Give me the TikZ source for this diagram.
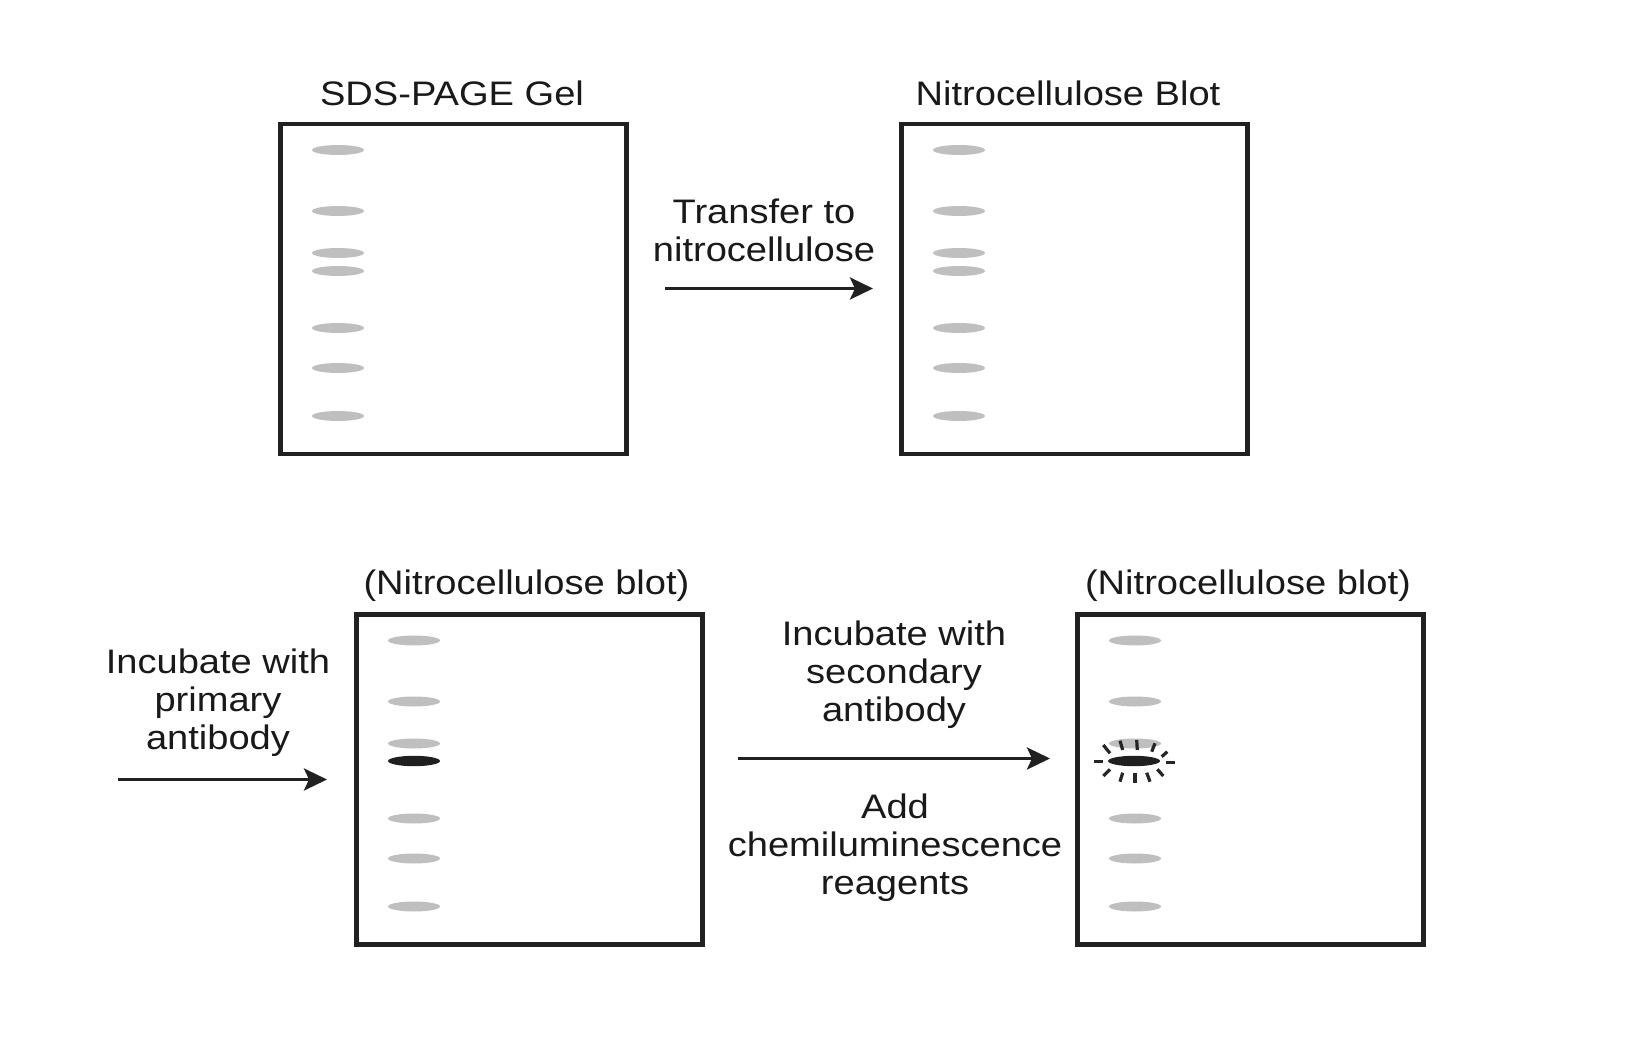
\documentclass[tikz,border=0pt]{standalone}
\usepackage{fontspec}
\setmainfont[FakeStretch=1.12]{Liberation Sans}
\usetikzlibrary{arrows.meta}
\tikzset{
  gelbox/.style={draw=black!87, line width=2.1pt, minimum width=173pt, minimum height=165pt, inner sep=0pt, outer sep=0pt, anchor=north west},
  lbl/.style={inner sep=0pt, text=black!90, font=\fontsize{17}{19}\selectfont, align=center},
  flow/.style={draw=black!87, line width=1.7pt, -{Stealth[length=11.5pt, width=11pt, inset=2.5pt]}},
  greyband/.style={fill=black!25},
  darkband/.style={fill=black!88},
  ray/.style={draw=black!85, line width=1.6pt},
}
\begin{document}
\begin{tikzpicture}[x=0.5pt,y=-0.5pt]
\useasboundingbox (0,0) rectangle (1650,1038);

% boxes
\node[gelbox] (gel)   at (280.5,124) {};
\node[gelbox] (blot)  at (901.5,124) {};
\node[gelbox] (blotA) at (356.5,614.5) {};
\node[gelbox] (blotB) at (1077.5,614.5) {};

% titles
\node[lbl, anchor=base] (tgel)   at (452,105) {SDS-PAGE Gel};
\node[lbl, anchor=base] (tblot)  at (1068,105) {Nitrocellulose Blot};
\node[lbl, anchor=base] (tblotA) at (526.5,594) {(Nitrocellulose blot)};
\node[lbl, anchor=base] (tblotB) at (1248,594) {(Nitrocellulose blot)};

% bands
\foreach \bx/\by in {280.5/124, 901.5/124, 356.5/614.5} {
  \foreach \dy in {26,87,129,204,244,292} {
    \fill[greyband] (\bx+57.5,\by+\dy) ellipse [x radius=13pt, y radius=2.5pt];
  }
}
\foreach \dy in {147} {
  \fill[greyband] (338,124+\dy) ellipse [x radius=13pt, y radius=2.5pt];
  \fill[greyband] (959,124+\dy) ellipse [x radius=13pt, y radius=2.5pt];
}
\fill[darkband] (414,761) ellipse [x radius=13pt, y radius=2.6pt];
\foreach \dy in {26,87,129,204,244,292} {
  \fill[greyband] (1135,614.5+\dy) ellipse [x radius=13pt, y radius=2.5pt];
}
\fill[darkband] (1134,761) ellipse [x radius=13pt, y radius=2.6pt];

% glow rays
\begin{scope}[shift={(1134,761)}]
  \foreach \ax/\ay/\bx/\by in {
    -40/0.7/-31.3/0.7, 32/1.7/41/1.7,
    -30.7/-16/-24/-7.7, -14/-20.3/-11.3/-11, 2.7/-21/3.3/-11,
    21/-17.7/17.7/-9.3, 33.3/-9.3/27.7/-4.3,
    -24/8.3/-30.7/15, -11.3/11.7/-14/20.7, 1/12.3/1/22.3,
    12.7/11.7/16/20.7, 23.3/8.3/29.3/15} {
    \draw[ray] (\ax,\ay) -- (\bx,\by);
  }
\end{scope}

% step labels
\node[lbl, anchor=north] (ttransfer) at (764,198) {Transfer to\\nitrocellulose};
\node[lbl, anchor=north] (tprimary) at (218,648.7) {Incubate with\\primary\\antibody};
\node[lbl, anchor=north] (tsecond) at (894,620.5) {Incubate with\\secondary\\antibody};
\node[lbl, anchor=north] (tchemi) at (895,793.5) {Add\\chemiluminescence\\reagents};

% arrows
\coordinate (a1s) at (665,288.5);
\coordinate (a1e) at (873,288.5);
\coordinate (a2s) at (118,779.5);
\coordinate (a2e) at (327,779.5);
\coordinate (a3s) at (738,758.5);
\coordinate (a3e) at (1050,758.5);
\draw[flow] (a1s) -- (a1e);
\draw[flow] (a2s) -- (a2e);
\draw[flow] (a3s) -- (a3e);
\end{tikzpicture}
\end{document}
